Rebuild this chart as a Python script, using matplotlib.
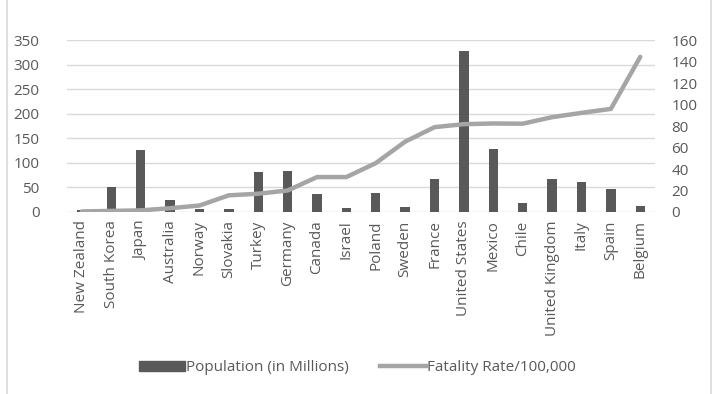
import matplotlib
matplotlib.use("Agg")
import matplotlib.pyplot as plt
import numpy as np
from matplotlib.lines import Line2D

countries = ['New Zealand', 'South Korea', 'Japan', 'Australia', 'Norway', 'Slovakia',
             'Turkey', 'Germany', 'Canada', 'Israel', 'Poland', 'Sweden', 'France',
             'United States', 'Mexico', 'Chile', 'United Kingdom', 'Italy', 'Spain', 'Belgium']
population = [4.9, 51.7, 126.5, 25.4, 5.4, 5.5, 82.0, 83.0, 37.6, 8.9, 38.0, 10.2,
              67.0, 328.0, 128.0, 19.0, 66.5, 60.4, 47.0, 11.5]
fatality_rate = [0.5, 1.0, 1.5, 3.5, 6.0, 15.5, 17.0, 20.0, 32.5, 32.5, 45.5, 65.5,
                 79.0, 81.8, 82.4, 82.2, 88.3, 92.3, 96.0, 144.5]

gray_txt = '#595959'
plt.rcParams['font.family'] = ['Open Sans', 'DejaVu Sans']

fig = plt.figure(figsize=(7.15, 3.94), dpi=100)
ax = fig.add_axes([0.094, 0.462, 0.822, 0.436])
ax2 = ax.twinx()

x = np.arange(len(countries))
ax.bar(x, population, width=0.32, color='#595959', zorder=3)
ax2.plot(x, fatality_rate, color='#A5A5A5', linewidth=3.2, solid_capstyle='round', zorder=4)

ax.set_xlim(-0.5, len(countries) - 0.5)
ax.set_ylim(0, 350)
ax.set_yticks(range(0, 351, 50))
ax2.set_ylim(0, 160)
ax2.set_yticks(range(0, 161, 20))

ax.yaxis.grid(True, color='#D9D9D9', linewidth=1)
ax.set_axisbelow(True)
for a in (ax, ax2):
    for s in a.spines.values():
        s.set_visible(False)
    a.tick_params(length=0, colors=gray_txt, labelsize=11)
ax.tick_params(axis='y', pad=20)
ax2.tick_params(axis='y', pad=12)

ax.set_xticks(x)
ax.set_xticklabels(countries, rotation=90, fontsize=11, color=gray_txt)
ax.tick_params(axis='x', pad=6)

handles = [plt.Rectangle((0, 0), 1, 1, color='#595959'),
           Line2D([0], [0], color='#A5A5A5', linewidth=3.2)]
fig.legend(handles, ['Population (in Millions)', 'Fatality Rate/100,000'],
           loc='center', bbox_to_anchor=(0.5, 0.066), ncol=2, frameon=False,
           fontsize=11, labelcolor=gray_txt, handlelength=3.0, handleheight=0.6,
           handletextpad=0.1, columnspacing=2.0)

for xp in (6.5 / 715, 711 / 715):
    fig.add_artist(Line2D([xp, xp], [0, 1], color='#D9D9D9', linewidth=1.2))

fig.savefig('out.png', dpi=100)
